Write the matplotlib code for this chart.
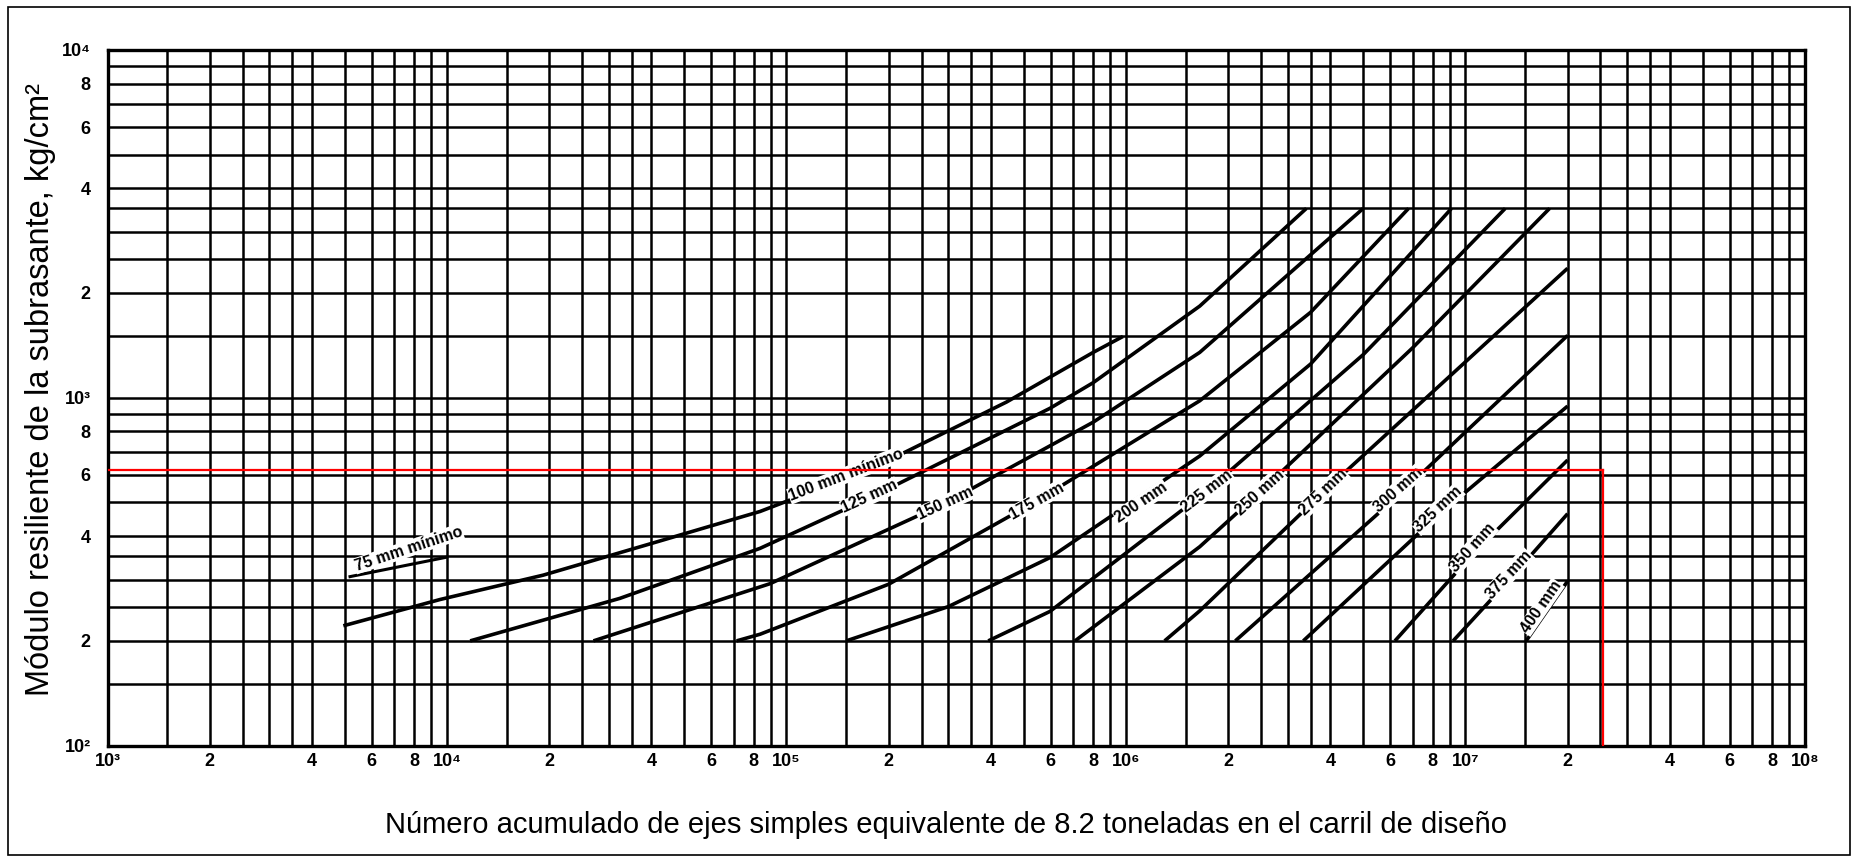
import numpy as np
import matplotlib.pyplot as plt
from matplotlib.ticker import FixedLocator, FixedFormatter, NullFormatter
from matplotlib.patches import Rectangle

plt.rcParams['font.family'] = ['Liberation Sans', 'DejaVu Sans']

# Ejes del ábaco: ESAL acumulados (x) y módulo resiliente Mr en kg/cm2 (y)
x_min, x_max = 1e3, 1e8
y_min, y_max = 1e2, 1e4

esal_100 = [4950, 9540, 19200, 39600, 83600, 1.8e5, 4.45e5, 8.0e5, 9.8e5]
mr_100 = [221, 263, 309, 380, 471, 628, 972, 1349, 1500]
esal_125 = [11700, 32300, 83600, 1.76e5, 5.97e5, 8.0e5, 1.65e6, 3.4e6]
mr_125 = [200, 265, 369, 515, 932, 1104, 1834, 3500]
esal_150 = [27000, 89400, 2.93e5, 8.0e5, 1.65e6, 5.0e6]
mr_150 = [200, 292, 497, 850, 1350, 3500]
esal_175 = [71300, 83600, 2.0e5, 5.46e5, 1.65e6, 3.5e6, 6.8e6]
mr_175 = [200, 209, 291, 505, 980, 1760, 3500]
esal_200 = [1.5e5, 3.0e5, 5.97e5, 1.65e6, 3.5e6, 9.1e6]
mr_200 = [200, 251, 347, 680, 1250, 3500]
esal_225 = [3.93e5, 5.97e5, 1.73e6, 5.0e6, 1.31e7]
mr_225 = [200, 243, 539, 1330, 3500]
esal_250 = [7.08e5, 1.65e6, 2.48e6, 7.0e6, 1.77e7]
mr_250 = [200, 373, 535, 1393, 3500]
esal_275 = [1.3e6, 1.65e6, 3.81e6, 2.0e7]
mr_275 = [200, 244, 535, 2355]
esal_300 = [2.1e6, 6.34e6, 2.0e7]
mr_300 = [200, 523, 1510]
esal_325 = [3.33e6, 8.3e6, 2.0e7]
mr_325 = [200, 459, 946]
esal_350 = [6.2e6, 1.05e7, 2.0e7]
mr_350 = [200, 355, 662]
esal_375 = [9.2e6, 1.34e7, 2.0e7]
mr_375 = [200, 298, 464]
esal_400 = [1.51e7, 2.0e7]
mr_400 = [200, 297]

# tramo corto de 75 mm
esal_75 = [5180, 9970]
mr_75 = [306, 348]

etiquetas = ["100 mm mínimo", "125 mm", "150 mm", "175 mm", "200 mm", "225 mm", "250 mm",
             "275 mm", "300 mm", "325 mm", "350 mm", "375 mm", "400 mm"]
etiq_x = [1.5e5, 1.76e5, 2.93e5, 5.46e5, 1.11e6, 1.73e6, 2.48e6, 3.81e6, 6.34e6, 8.3e6,
          1.05e7, 1.34e7, 1.67e7]
etiq_y = [600, 520, 497, 505, 500, 539, 535, 535, 545, 478, 370, 310, 250]

curvas_x = [esal_100, esal_125, esal_150, esal_175, esal_200, esal_225, esal_250,
            esal_275, esal_300, esal_325, esal_350, esal_375, esal_400]
curvas_y = [mr_100, mr_125, mr_150, mr_175, mr_200, mr_225, mr_250,
            mr_275, mr_300, mr_325, mr_350, mr_375, mr_400]

# lectura de ejemplo (linea roja)
rojo_mr = 620
rojo_esal = 2.55e7

# divisiones de la cuadricula dentro de cada decada
subdiv = [1, 1.5, 2, 2.5, 3, 3.5, 4, 5, 6, 7, 8, 9]
marcas = [1, 2, 4, 6, 8]
sup = {2: "²", 3: "³", 4: "⁴", 5: "⁵", 6: "⁶", 7: "⁷", 8: "⁸"}

fig = plt.figure(figsize=(18.54, 8.59), dpi=100)
ax = fig.add_axes([0.058, 0.132, 0.9155, 0.810])
ax.set_xscale('log')
ax.set_yscale('log')
ax.set_xlim(x_min, x_max)
ax.set_ylim(y_min, y_max)

# ticks con etiquetas
xt, xl = [], []
for e in range(3, 9):
    for m in marcas:
        if e == 8 and m > 1:
            continue
        xt.append(m * 10.0 ** e)
        xl.append("10" + sup[e] if m == 1 else str(m))
yt, yl = [], []
for e in range(2, 5):
    for m in marcas:
        if e == 4 and m > 1:
            continue
        yt.append(m * 10.0 ** e)
        yl.append("10" + sup[e] if m == 1 else str(m))

xg = [s * 10.0 ** e for e in range(3, 8) for s in subdiv if s not in marcas]
yg = [s * 10.0 ** e for e in range(2, 4) for s in subdiv if s not in marcas]

ax.xaxis.set_major_locator(FixedLocator(xt))
ax.xaxis.set_major_formatter(FixedFormatter(xl))
ax.xaxis.set_minor_locator(FixedLocator(xg))
ax.xaxis.set_minor_formatter(NullFormatter())
ax.yaxis.set_major_locator(FixedLocator(yt))
ax.yaxis.set_major_formatter(FixedFormatter(yl))
ax.yaxis.set_minor_locator(FixedLocator(yg))
ax.yaxis.set_minor_formatter(NullFormatter())

ax.grid(True, which='both', color='black', lw=1.8)
ax.tick_params(which='both', length=0)
ax.tick_params(axis='x', pad=5, labelsize=13)
ax.tick_params(axis='y', pad=12, labelsize=13)
for t in ax.get_xticklabels() + ax.get_yticklabels():
    t.set_fontweight('bold')
for s in ax.spines.values():
    s.set_linewidth(2.4)

# curvas
for xs, ys in zip(curvas_x, curvas_y):
    ax.plot(xs, ys, color='black', lw=2.6, solid_capstyle='butt',
            solid_joinstyle='round', zorder=3)
ax.plot(esal_75, mr_75, color='black', lw=2.2, zorder=3)


def angulo(xs, ys, xv):
    i = int(np.searchsorted(xs, xv))
    i = min(max(i, 1), len(xs) - 1)
    p0 = ax.transData.transform((xs[i - 1], ys[i - 1]))
    p1 = ax.transData.transform((xs[i], ys[i]))
    return np.degrees(np.arctan2(p1[1] - p0[1], p1[0] - p0[0]))


for txt, xv, yv, xs, ys in zip(etiquetas, etiq_x, etiq_y, curvas_x, curvas_y):
    ax.text(xv, yv, txt, rotation=angulo(xs, ys, xv), rotation_mode='anchor',
            ha='center', va='center', fontsize=11.5, fontweight='bold', zorder=5,
            bbox=dict(fc='white', ec='none', pad=0.5))

ax.text(7700, 368, "75 mm mínimo", rotation=angulo(esal_75, mr_75, 7000) + 7,
        rotation_mode='anchor', ha='center', va='center', fontsize=11.5,
        fontweight='bold', zorder=5, bbox=dict(fc='white', ec='none', pad=0.5))

# linea roja
ax.plot([x_min, rojo_esal], [rojo_mr, rojo_mr], color='red', lw=1.6, zorder=6)
ax.plot([rojo_esal, rojo_esal], [rojo_mr, y_min], color='red', lw=1.6, zorder=6)

fig.text(0.510, 0.040, "Número acumulado de ejes simples equivalente de 8.2 toneladas en el carril de diseño",
         ha='center', va='center', fontsize=21)
fig.text(0.022, 0.546, "Módulo resiliente de la subrasante, kg/cm²", rotation=90,
         ha='center', va='center', fontsize=23.5)

fig.patches.append(Rectangle((0.0043, 0.0047), 0.9935, 0.9872, transform=fig.transFigure,
                             fill=False, ec='black', lw=1.2))

fig.savefig("out.png", dpi=100)
